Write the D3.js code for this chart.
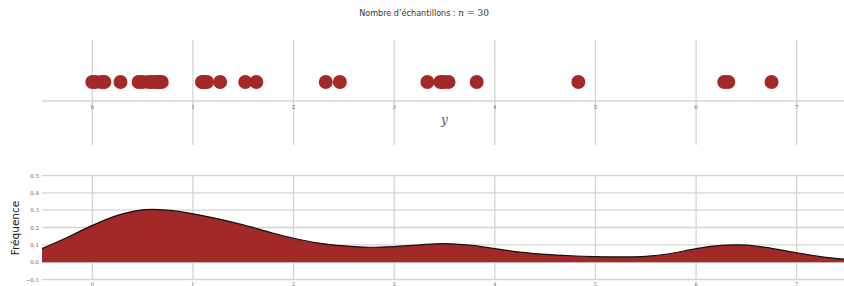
<!DOCTYPE html>
<html>
<head>
<meta charset="utf-8">
<script src="https://cdn.jsdelivr.net/npm/d3@7"></script>
<style>
  body { margin: 0; background: #fff; }
  svg { display: block; }
</style>
</head>
<body>
<div id="chart"></div>
<script>
// sample values
const samples = [
  0.0, 0.03, 0.09, 0.12, 0.28, 0.46, 0.50, 0.56, 0.59, 0.63,
  0.65, 0.66, 0.69, 1.09, 1.11, 1.14, 1.27, 1.52, 1.63, 2.32,
  2.46, 3.33, 3.46, 3.49, 3.54, 3.82, 4.83, 6.28, 6.32, 6.75,
];

// density curve, read at steps of 0.25 from -0.5 to 7.5
const densityX = [
  -0.5, -0.25, 0, 0.25, 0.5, 0.75, 1, 1.25, 1.5, 1.75, 2, 2.25, 2.5, 2.75,
  3, 3.25, 3.5, 3.75, 4, 4.25, 4.5, 4.75, 5, 5.25, 5.5, 5.75, 6, 6.25,
  6.5, 6.75, 7, 7.25, 7.5,
];
const densityY = [
  0.078, 0.142, 0.212, 0.270, 0.302, 0.300, 0.279, 0.250, 0.215, 0.175,
  0.138, 0.110, 0.094, 0.086, 0.090, 0.100, 0.107, 0.098, 0.078, 0.058,
  0.045, 0.037, 0.032, 0.030, 0.033, 0.050, 0.078, 0.097, 0.098, 0.080,
  0.054, 0.031, 0.016,
];

const xTicks = [0, 1, 2, 3, 4, 5, 6, 7];
const yTicks = [-0.1, 0.0, 0.1, 0.2, 0.3, 0.4, 0.5];

const width = 844;
const height = 286;
const red = '#a32929';
const grid = '#d4d4d4';

const svg = d3.select('#chart')
  .append('svg')
  .attr('width', width)
  .attr('height', height)
  .attr('viewBox', `0 0 ${width} ${height}`);

const x = d3.scaleLinear().domain([-0.5, 7.5]).range([42, 847]);

// title
const title = svg.append('text')
  .attr('x', 424)
  .attr('y', 16)
  .attr('text-anchor', 'middle')
  .style('font-family', '"DejaVu Sans Condensed", "Liberation Sans Narrow", sans-serif')
  .style('font-size', '9px')
  .attr('fill', '#333');
title.append('tspan').text("Nombre d\u2019échantillons : ");
title.append('tspan')
  .style('font-family', '"DejaVu Serif", serif')
  .style('font-style', 'italic')
  .text('n');
title.append('tspan')
  .style('font-family', '"DejaVu Serif", serif')
  .text(' = 30');

// ---- top panel: rug of samples ----
const rugPanel = svg.append('g');
const axisY = 101;

rugPanel.selectAll('line.vgrid')
  .data(xTicks)
  .join('line')
  .attr('class', 'vgrid')
  .attr('x1', d => x(d))
  .attr('x2', d => x(d))
  .attr('y1', 40)
  .attr('y2', 145)
  .attr('stroke', grid)
  .attr('stroke-width', 1.3);

rugPanel.append('line')
  .attr('x1', x(-0.5))
  .attr('x2', width)
  .attr('y1', axisY)
  .attr('y2', axisY)
  .attr('stroke', grid)
  .attr('stroke-width', 1.3);

rugPanel.selectAll('text.xt')
  .data(xTicks)
  .join('text')
  .attr('class', 'xt')
  .attr('x', d => x(d))
  .attr('y', axisY + 8)
  .attr('text-anchor', 'middle')
  .style('font-family', '"DejaVu Serif", serif')
  .style('font-size', '5.5px')
  .attr('fill', '#666')
  .text(d => d);

rugPanel.append('text')
  .attr('x', (x(-0.5) + x(7.5)) / 2)
  .attr('y', 124)
  .attr('text-anchor', 'middle')
  .style('font-family', '"DejaVu Serif", serif')
  .style('font-style', 'italic')
  .style('font-size', '12px')
  .attr('fill', '#555')
  .text('y');

rugPanel.selectAll('circle')
  .data(samples)
  .join('circle')
  .attr('cx', d => x(d))
  .attr('cy', 82)
  .attr('r', 7)
  .attr('fill', red);

// ---- bottom panel: density ----
const y = d3.scaleLinear().domain([-0.1, 0.5]).range([279.5, 175.5]);
const densityPanel = svg.append('g');

densityPanel.selectAll('line.hgrid')
  .data(yTicks)
  .join('line')
  .attr('class', 'hgrid')
  .attr('x1', x(-0.5))
  .attr('x2', width)
  .attr('y1', d => y(d))
  .attr('y2', d => y(d))
  .attr('stroke', grid)
  .attr('stroke-width', 1.3);

densityPanel.selectAll('line.vgrid')
  .data(xTicks)
  .join('line')
  .attr('class', 'vgrid')
  .attr('x1', d => x(d))
  .attr('x2', d => x(d))
  .attr('y1', y(0.5))
  .attr('y2', y(-0.1))
  .attr('stroke', grid)
  .attr('stroke-width', 1.3);

densityPanel.selectAll('text.yt')
  .data(yTicks)
  .join('text')
  .attr('class', 'yt')
  .attr('x', 39)
  .attr('y', d => y(d) + 2)
  .attr('text-anchor', 'end')
  .style('font-family', '"DejaVu Serif", serif')
  .style('font-size', '5.5px')
  .attr('fill', '#666')
  .text(d => d3.format('.1f')(d).replace('-', '\u2212'));

densityPanel.selectAll('text.xt')
  .data(xTicks)
  .join('text')
  .attr('class', 'xt')
  .attr('x', d => x(d))
  .attr('y', 285.5)
  .attr('text-anchor', 'middle')
  .style('font-family', '"DejaVu Serif", serif')
  .style('font-size', '5px')
  .attr('fill', '#666')
  .text(d => d);

densityPanel.append('text')
  .attr('transform', 'translate(19,228) rotate(-90)')
  .attr('text-anchor', 'middle')
  .style('font-family', '"DejaVu Sans", sans-serif')
  .style('font-size', '10.5px')
  .attr('fill', '#222')
  .text('Fréquence');

const pts = densityX.map((d, i) => [d, densityY[i]]);

densityPanel.append('path')
  .datum(pts)
  .attr('fill', red)
  .attr('d', d3.area()
    .x(d => x(d[0]))
    .y0(y(0))
    .y1(d => y(d[1]))
    .curve(d3.curveCatmullRom));

densityPanel.append('path')
  .datum(pts)
  .attr('fill', 'none')
  .attr('stroke', '#111')
  .attr('stroke-width', 1.2)
  .attr('d', d3.line()
    .x(d => x(d[0]))
    .y(d => y(d[1]))
    .curve(d3.curveCatmullRom));
</script>
</body>
</html>
